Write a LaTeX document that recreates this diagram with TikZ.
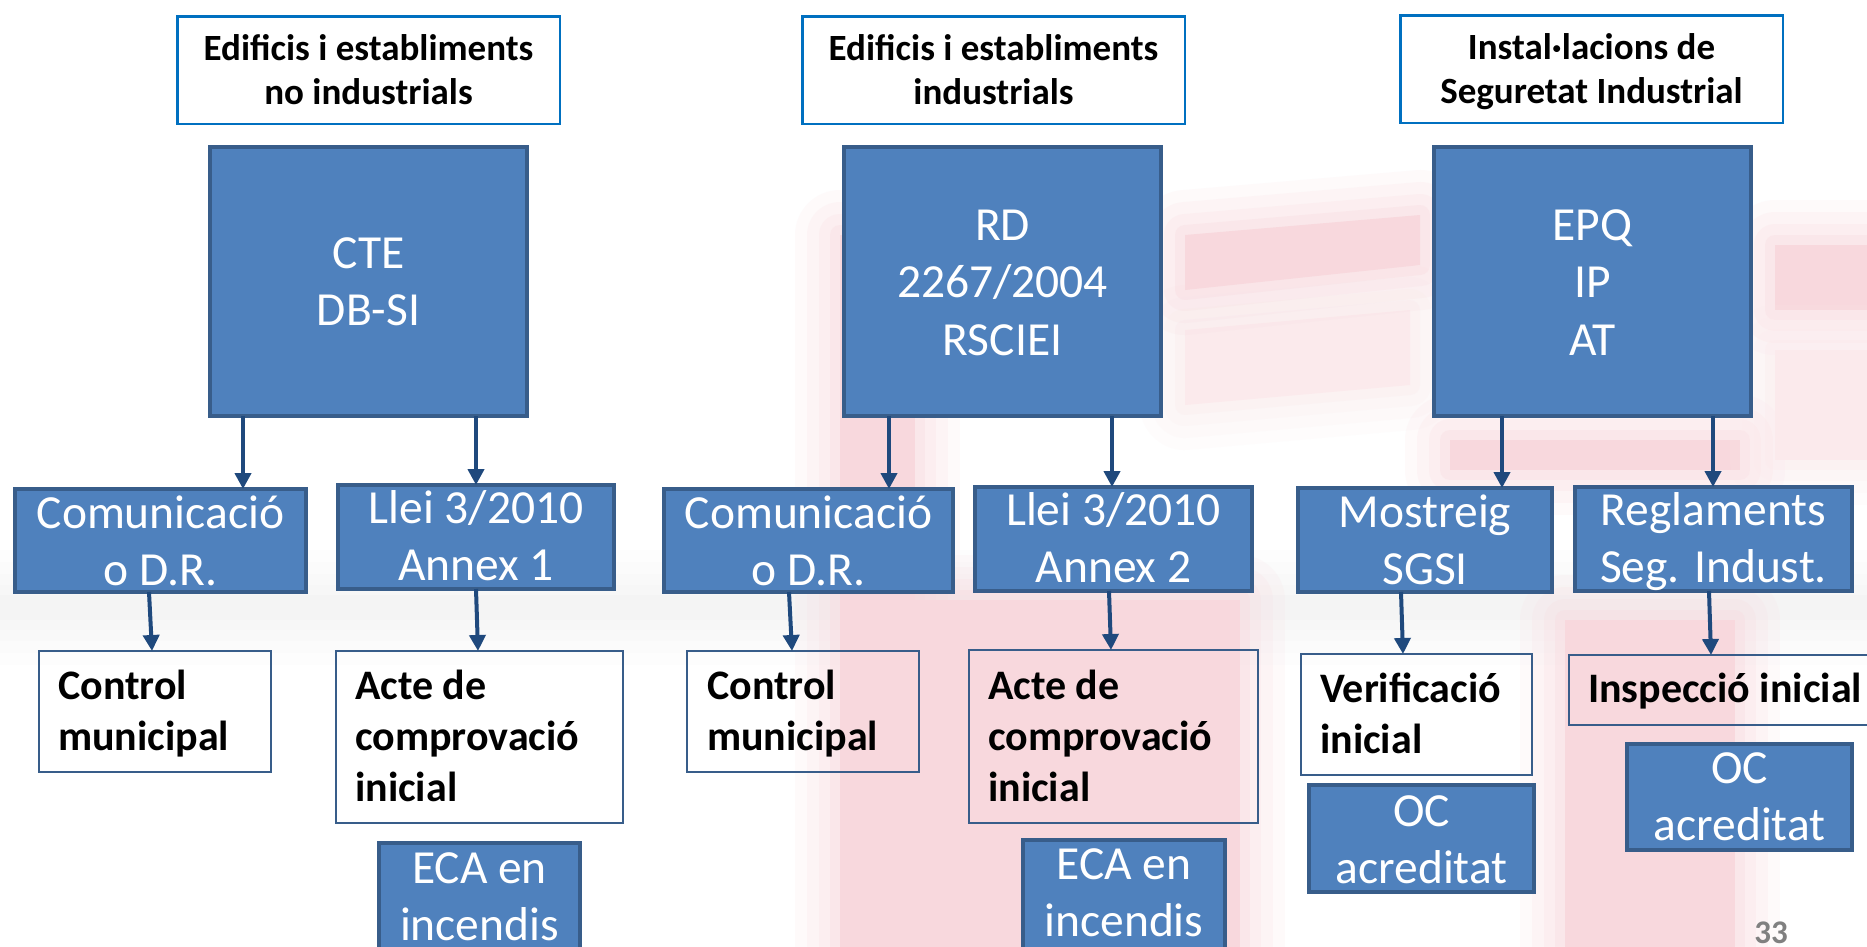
\documentclass[tikz,border=0pt]{standalone}
\usepackage{fontspec}
\setmainfont{Carlito}
\usetikzlibrary{arrows.meta}
\definecolor{hdrblue}{HTML}{0070C0}
\definecolor{boxfill}{HTML}{4F81BD}
\definecolor{boxline}{HTML}{385D8A}
\definecolor{arrcol}{HTML}{1F497D}
\definecolor{pinkbg}{RGB}{248,216,221}
\definecolor{greybg}{RGB}{244,244,244}
\newcommand\mlc[1]{\begin{tabular}[t]{@{}c@{}}#1\end{tabular}}
\newcommand\mll[1]{\begin{tabular}[t]{@{}l@{}}#1\end{tabular}}
\begin{document}
\begin{tikzpicture}[x=1pt,y=-1pt,
 hdr/.style={draw=hdrblue, line width=2.5pt, fill=white, inner sep=0pt, outer sep=0pt},
 blu/.style={draw=boxline, line width=4pt, fill=boxfill, inner sep=0pt, outer sep=0pt},
 wbox/.style={draw=boxline, line width=1.6pt, inner sep=0pt, outer sep=0pt},
 htxt/.style={font=\bfseries\fontsize{37}{44.5}\selectfont, anchor=base, inner sep=0pt},
 btxt/.style={font=\fontsize{47.5}{57.5}\selectfont, text=white, anchor=base, inner sep=0pt},
 ktxt/.style={font=\bfseries\fontsize{42}{51}\selectfont, anchor=base west, inner sep=0pt},
 arr/.style={draw=arrcol, line width=4pt, -{Triangle[length=16pt,width=16pt]}},
 blurc/.style={preaction={draw=#1, line width=90pt, draw opacity=0.12, line join=round},
               preaction={draw=#1, line width=66pt, draw opacity=0.15, line join=round},
               preaction={draw=#1, line width=42pt, draw opacity=0.2, line join=round},
               preaction={draw=#1, line width=20pt, draw opacity=0.3, line join=round}},
 soft/.style={fill=pinkbg, blurc=pinkbg},
 softl/.style={fill=pinkbg!55, blurc=pinkbg!55},
 softg/.style={fill=greybg, blurc=greybg}
]
\useasboundingbox (0,0) rectangle (1867,946);
\fill[white] (0,0) rectangle (1867,946);
% faint background watermark
\path[softg] (0,595) rectangle (1867,620);
\path[softl] (1185,330) -- (1410,310) -- (1410,385) -- (1185,405) -- cycle;
\path[soft] (840,235) rectangle (915,960);
\path[soft] (915,600) rectangle (1240,960);
\path[soft] (1185,235) -- (1420,215) -- (1420,265) -- (1185,290) -- cycle;
\path[soft] (1565,620) rectangle (1735,960);
\path[soft] (1775,245) rectangle (1880,310);
\path[soft] (1450,440) rectangle (1740,470);
\path[softl] (1775,350) rectangle (1880,460);

% headers
\node[hdr, minimum width=382.5pt, minimum height=107.5pt] (h1) at (368.5,70) {};
\node[htxt] (th1) at (368.5,60) {\mlc{Edificis i establiments\\no industrials}};
\node[hdr, minimum width=382.5pt, minimum height=107.5pt] (h2) at (993.5,70) {};
\node[htxt] (th2) at (993.5,60) {\mlc{Edificis i establiments\\industrials}};
\node[hdr, minimum width=382.5pt, minimum height=107.5pt] (h3) at (1591.5,69) {};
\node[htxt] (th3) at (1591.5,59) {\mlc{Instal·lacions de\\Seguretat Industrial}};

% main boxes
\node[blu, minimum width=317pt, minimum height=269pt] (b1) at (368.5,281.5) {};
\node[btxt] (tb1) at (368.5,268) {\mlc{CTE\\DB-SI}};
\node[blu, minimum width=317pt, minimum height=269pt] (b2) at (1002.5,281.5) {};
\node[btxt] (tb2) at (1002.5,240) {\mlc{RD\\2267/2004\\RSCIEI}};
\node[blu, minimum width=317pt, minimum height=269pt] (b3) at (1592.5,281.5) {};
\node[btxt] (tb3) at (1592.5,240) {\mlc{EPQ\\IP\\AT}};

% second level
\node[blu, minimum width=291pt, minimum height=103pt] (c1) at (160.5,540.5) {};
\node[btxt] (tc1) at (160.5,528) {\mlc{Comunicació\\o D.R.}};
\node[blu, minimum width=276pt, minimum height=104pt] (l1) at (476,537) {};
\node[btxt] (tl1) at (476,523) {\mlc{Llei 3/2010\\Annex 1}};
\node[blu, minimum width=289pt, minimum height=103pt] (c2) at (808.5,540.5) {};
\node[btxt] (tc2) at (808.5,528) {\mlc{Comunicació\\o D.R.}};
\node[blu, minimum width=277pt, minimum height=104pt] (l2) at (1113.5,539) {};
\node[btxt] (tl2) at (1113.5,525) {\mlc{Llei 3/2010\\Annex 2}};
\node[blu, minimum width=254pt, minimum height=104pt] (m) at (1425,540) {};
\node[btxt] (tm) at (1425,527) {\mlc{Mostreig\\SGSI}};
\node[blu, minimum width=277pt, minimum height=104pt] (r) at (1713.5,539) {};
\node[btxt] (tr) at (1713.5,525) {\mlc{Reglaments\\Seg. Indust.}};

% third level
\node[wbox, minimum width=232pt, minimum height=121pt] (cm1) at (155,711.5) {};
\node[ktxt] (tcm1) at (58,699) {\mll{Control\\municipal}};
\node[wbox, minimum width=287pt, minimum height=172pt] (ac1) at (479.5,737) {};
\node[ktxt] (tac1) at (355,699) {\mll{Acte de\\comprovació\\inicial}};
\node[wbox, minimum width=232pt, minimum height=121pt] (cm2) at (803,711.5) {};
\node[ktxt] (tcm2) at (707,699) {\mll{Control\\municipal}};
\node[wbox, minimum width=289pt, minimum height=173pt] (ac2) at (1113.5,736.5) {};
\node[ktxt] (tac2) at (988,699) {\mll{Acte de\\comprovació\\inicial}};
\node[wbox, minimum width=231pt, minimum height=121pt] (vi) at (1416.5,714.5) {};
\node[ktxt] (tvi) at (1320,702) {\mll{Verificació\\inicial}};
\node[wbox, minimum width=330pt, minimum height=70pt] (ii) at (1734,690) {};
\node[ktxt] (tii) at (1588,702) {Inspecció inicial};

% fourth level
\node[blu, minimum width=201pt, minimum height=126pt] (eca1) at (479.5,906) {};
\node[btxt] (teca1) at (479.5,883) {\mlc{ECA en\\incendis}};
\node[blu, minimum width=202pt, minimum height=126pt] (eca2) at (1124,903) {};
\node[btxt] (teca2) at (1124,879) {\mlc{ECA en\\incendis}};
\node[blu, minimum width=225pt, minimum height=107pt] (oc1) at (1421.5,838.5) {};
\node[btxt] (toc1) at (1421.5,826) {\mlc{OC\\acreditat}};
\node[blu, minimum width=225pt, minimum height=106pt] (oc2) at (1739.5,797) {};
\node[btxt] (toc2) at (1739.5,783) {\mlc{OC\\acreditat}};

% arrows
\draw[arr] ([xshift=-125.5pt]b1.south) -- ([xshift=82.5pt]c1.north);
\draw[arr] ([xshift=107.5pt]b1.south) -- (l1.north);
\draw[arr] ([xshift=-113.5pt]b2.south) -- ([xshift=80.5pt]c2.north);
\draw[arr] ([xshift=109.5pt]b2.south) -- ([xshift=-1.5pt]l2.north);
\draw[arr] ([xshift=-90.5pt]b3.south) -- ([xshift=77pt]m.north);
\draw[arr] ([xshift=120.5pt]b3.south) -- ([xshift=-0.5pt]r.north);
\draw[arr] ([xshift=-11.5pt]c1.south) -- ([xshift=-3pt]cm1.north);
\draw[arr] (l1.south) -- ([xshift=-1.5pt]ac1.north);
\draw[arr] ([xshift=-19.5pt]c2.south) -- ([xshift=-11pt]cm2.north);
\draw[arr] ([xshift=-4.5pt]l2.south) -- ([xshift=-2.5pt]ac2.north);
\draw[arr] ([xshift=-24pt]m.south) -- ([xshift=-13.5pt]vi.north);
\draw[arr] ([xshift=-4.5pt]r.south) -- ([xshift=-23pt]ii.north);

\node[font=\bfseries\fontsize{33}{40}\selectfont, text=black!50, anchor=base] (pg) at (1771,943) {33};
\end{tikzpicture}
\end{document}
